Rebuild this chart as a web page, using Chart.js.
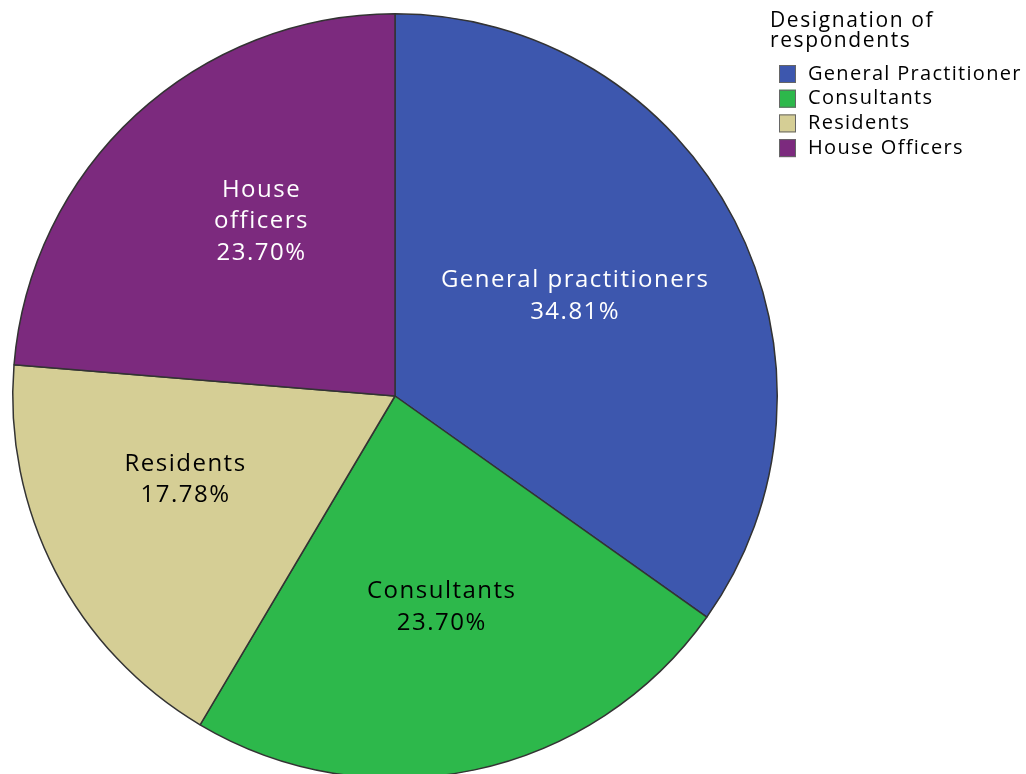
<!DOCTYPE html>
<html>
<head>
<meta charset="utf-8">
<title>Designation of respondents</title>
<script src="https://cdn.jsdelivr.net/npm/chart.js@4.4.1/dist/chart.umd.min.js"></script>
<style>
  html, body { margin: 0; padding: 0; background: #fff; overflow: hidden; }
  #wrap { width: 1026px; height: 800px; }
</style>
</head>
<body>
<div id="wrap"><canvas id="pie"></canvas></div>
<script>
// Data
const categories = ['General Practitioner', 'Consultants', 'Residents', 'House Officers'];
const sliceLabels = [['General practitioners'], ['Consultants'], ['Residents'], ['House', 'officers']];
const percentages = [34.81, 23.70, 17.78, 23.70];
const sliceColors = ['#3d57ae', '#2db84b', '#d5ce95', '#7c2a7e'];
const labelColors = ['#ffffff', '#000000', '#000000', '#ffffff'];
// where each label sits: angle shift from slice middle (deg), fraction of radius
const labelShift = [-2.3, -0.4, 6.1, 5.4];
const labelDist = [0.54, 0.56, 0.59, 0.58];

const FONT = '"Open Sans", "DejaVu Sans", sans-serif';

function drawSpaced(ctx, text, x, y, spacing) {
  ctx.letterSpacing = spacing + 'px';
  // trailing spacing would push centred text left
  ctx.fillText(text, x + spacing / 2, y);
}

// Text labels inside each slice
const sliceLabelPlugin = {
  id: 'sliceLabels',
  afterDatasetsDraw(chart) {
    const ctx = chart.ctx;
    const arcs = chart.getDatasetMeta(0).data;
    ctx.save();
    ctx.font = '24px ' + FONT;
    ctx.textAlign = 'center';
    ctx.textBaseline = 'middle';
    arcs.forEach((arc, i) => {
      const mid = (arc.startAngle + arc.endAngle) / 2 + labelShift[i] * Math.PI / 180;
      const r = arc.outerRadius * labelDist[i];
      const x = arc.x + Math.cos(mid) * r;
      const y = arc.y + Math.sin(mid) * r + 2;
      const lines = sliceLabels[i].concat([percentages[i].toFixed(2) + '%']);
      const lh = 31.5;
      const y0 = y - (lines.length - 1) * lh / 2;
      ctx.fillStyle = labelColors[i];
      lines.forEach((t, j) => drawSpaced(ctx, t, x, y0 + j * lh, 1.5));
    });
    ctx.restore();
  }
};

// Legend at the top right
const legendPlugin = {
  id: 'sideLegend',
  afterDraw(chart) {
    const ctx = chart.ctx;
    ctx.save();
    ctx.fillStyle = '#000';
    ctx.textAlign = 'left';
    ctx.textBaseline = 'middle';
    ctx.font = '21px ' + FONT;
    ctx.letterSpacing = '1.6px';
    ctx.fillText('Designation of', 770, 21);
    ctx.fillText('respondents', 770, 41);
    ctx.font = '20px ' + FONT;
    ctx.letterSpacing = '1.3px';
    categories.forEach((c, i) => {
      const y = 74 + i * 24.7;
      ctx.fillStyle = sliceColors[i];
      ctx.fillRect(779, y - 9, 17, 18);
      ctx.strokeStyle = '#666';
      ctx.lineWidth = 1;
      ctx.strokeRect(779.5, y - 8.5, 16, 17);
      ctx.fillStyle = '#000';
      ctx.fillText(c, 808, y);
    });
    ctx.restore();
  }
};

new Chart(document.getElementById('pie'), {
  type: 'pie',
  data: {
    labels: categories,
    datasets: [{
      data: percentages,
      backgroundColor: sliceColors,
      borderColor: '#333333',
      borderWidth: 1.5
    }]
  },
  options: {
    responsive: true,
    maintainAspectRatio: false,
    animation: false,
    layout: { padding: { left: 12, top: 13, right: 248, bottom: 21 } },
    plugins: {
      legend: { display: false },
      tooltip: { enabled: false }
    }
  },
  plugins: [sliceLabelPlugin, legendPlugin]
});
</script>
</body>
</html>
